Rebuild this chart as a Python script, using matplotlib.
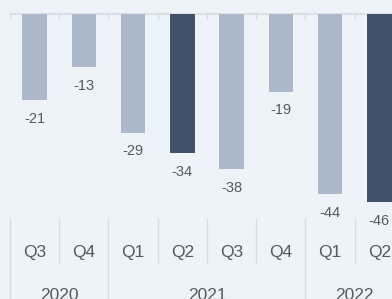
import matplotlib.pyplot as plt

quarters = ['Q3', 'Q4', 'Q1', 'Q2', 'Q3', 'Q4', 'Q1', 'Q2']
values = [-21, -13, -29, -34, -38, -19, -44, -46]
years = ['2020', '2021', '2022']
year_spans = [(0, 1), (2, 5), (6, 7)]
highlight = [3, 7]

light = '#adb8ca'
dark = '#42526b'
bg = '#eef3f8'
grid = '#d6dbe2'
txt = '#555a60'

plt.rcParams['font.family'] = ['Liberation Sans', 'DejaVu Sans']

fig = plt.figure(figsize=(3.92, 2.99), dpi=100, facecolor=bg)
# plot area runs off the right edge like the original crop
ax = fig.add_axes([10 / 392, 0, 394 / 392, 1])
ax.set_facecolor(bg)
ax.set_xlim(-0.5, 7.5)
ax.set_ylim(-(285 / 4.09), 14 / 4.09)
ax.axis('off')

x = list(range(len(values)))
colors = [dark if i in highlight else light for i in x]
ax.bar(x, values, width=0.5, color=colors, zorder=2)

for i, v in zip(x, values):
    ax.annotate(str(v), (i, v), xytext=(0, -13.5), textcoords='offset points',
                ha='center', va='center', fontsize=10.5, color=txt)

# top axis line and ticks
ax.plot([-0.5, 7.5], [0, 0], color=grid, lw=1.2, zorder=1)
for b in range(9):
    ax.plot([b - 0.5, b - 0.5], [0.2, -1.0], color=grid, lw=1, zorder=1)

# category axis below
y_sep_top = -(205 / 4.09)
y_q_bot = -(248 / 4.09)
y_q_lbl = -(238 / 4.09)
y_yr_lbl = -(281 / 4.09)
year_starts = [s for s, e in year_spans]
for b in range(8):
    bottom = -80 if b in year_starts else y_q_bot
    ax.plot([b - 0.5, b - 0.5], [y_sep_top, bottom], color=grid, lw=1, clip_on=False)
for i, q in enumerate(quarters):
    ax.text(i, y_q_lbl, q, ha='center', va='center', fontsize=12.5, color=txt)
for yr, (s, e) in zip(years, year_spans):
    ax.text((s + e) / 2, y_yr_lbl, yr, ha='center', va='center', fontsize=12.5, color=txt)

fig.savefig('out.png', dpi=100, facecolor=bg)
